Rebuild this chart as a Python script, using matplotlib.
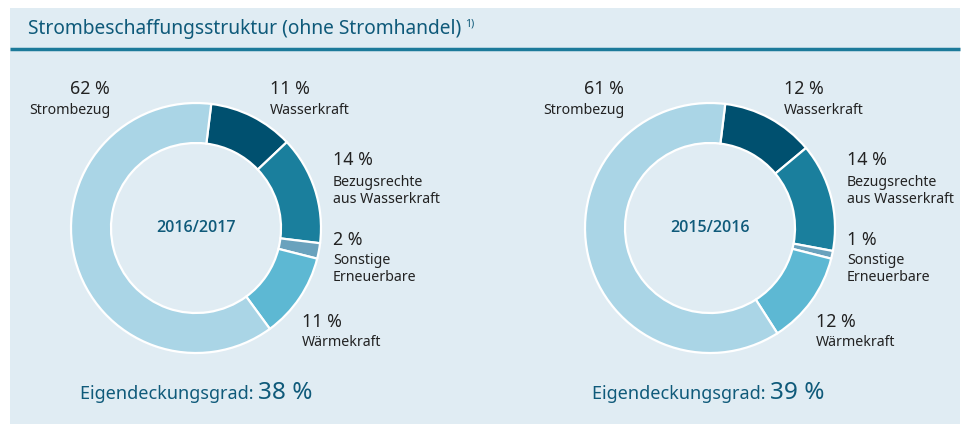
import matplotlib.pyplot as plt
from matplotlib.patches import Rectangle

W, H = 964, 426

title = "Strombeschaffungsstruktur (ohne Stromhandel)"
years = ["2016/2017", "2015/2016"]
categories = ["Wasserkraft", "Bezugsrechte\naus Wasserkraft", "Sonstige\nErneuerbare",
              "Wärmekraft", "Strombezug"]
values_1617 = [11, 14, 2, 11, 62]
values_1516 = [12, 14, 1, 12, 61]
eigendeckung = [38, 39]

colors = ["#00506f", "#1a7f9d", "#6aa2bd", "#5db8d3", "#aad5e6"]
bg = "#e0ecf3"
dark = "#0f5a7a"
textc = "#222222"

plt.rcParams['font.family'] = ['Noto Sans', 'DejaVu Sans']

fig = plt.figure(figsize=(W / 100, H / 100), dpi=100)
fig.patch.set_facecolor("white")
ax = fig.add_axes([0, 0, 1, 1])
ax.set_xlim(0, W)
ax.set_ylim(0, H)
ax.axis("off")


def py(y):
    # pixel y from top -> data y
    return H - y


def after(t):
    # right edge of a text, in data x
    fig.canvas.draw()
    return t.get_window_extent().x1


# panel background and title rule
ax.add_patch(Rectangle((10, py(424)), 950, 416, facecolor=bg, edgecolor="none", zorder=0))
ax.plot([10, 960], [py(49), py(49)], color="#1c7a9a", lw=2.5, solid_capstyle="butt", zorder=1)
t = ax.text(28, py(29), title, fontsize=13.8, color=dark, va="center", ha="left")
ax.text(after(t) + 4, py(24), "1)", fontsize=7.5, color=dark, va="center", ha="left")

panels = [
    dict(cx=196, vals=values_1617, year=years[0], eig=eigendeckung[0], ex=80),
    dict(cx=710, vals=values_1516, year=years[1], eig=eigendeckung[1], ex=592),
]

cy = 228
r_out, r_in = 125, 85
pct = 12.8
lab = 10.2

for p in panels:
    cx = p["cx"]
    ax.pie(p["vals"], colors=colors, startangle=83, counterclock=False,
           center=(cx, py(cy)), radius=r_out, frame=True,
           wedgeprops=dict(width=r_out - r_in, edgecolor="white", linewidth=1.6))
    ax.text(cx, py(cy), p["year"], fontsize=11.5, fontweight="semibold", color=dark,
            family=["Open Sans", "DejaVu Sans"], ha="center", va="center")

    v = p["vals"]
    # Strombezug (right aligned, upper left)
    ax.text(cx - 86, py(89), f"{v[4]} %", fontsize=pct, color=textc, ha="right", va="center")
    ax.text(cx - 85, py(110), categories[4], fontsize=lab, color=textc, ha="right", va="center")
    # Wasserkraft
    ax.text(cx + 74, py(89), f"{v[0]} %", fontsize=pct, color=textc, ha="left", va="center")
    ax.text(cx + 74, py(110), categories[0], fontsize=lab, color=textc, ha="left", va="center")
    # Bezugsrechte
    ax.text(cx + 137, py(160), f"{v[1]} %", fontsize=pct, color=textc, ha="left", va="center")
    ax.text(cx + 137, py(191), categories[1], fontsize=lab, color=textc, ha="left", va="center",
            linespacing=1.2)
    # Sonstige
    ax.text(cx + 137, py(240), f"{v[2]} %", fontsize=pct, color=textc, ha="left", va="center")
    ax.text(cx + 137, py(269), categories[2], fontsize=lab, color=textc, ha="left", va="center",
            linespacing=1.2)
    # Wärmekraft
    ax.text(cx + 106, py(322), f"{v[3]} %", fontsize=pct, color=textc, ha="left", va="center")
    ax.text(cx + 106, py(342), categories[3], fontsize=lab, color=textc, ha="left", va="center")

    t = ax.text(p["ex"], py(399), "Eigendeckungsgrad: ", fontsize=13, color=dark,
                ha="left", va="baseline")
    ax.text(after(t), py(399), f"{p['eig']} %", fontsize=17.5, color=dark,
            ha="left", va="baseline")

ax.set_xlim(0, W)
ax.set_ylim(0, H)
ax.set_aspect("auto")

fig.savefig("out.png", dpi=100, facecolor=fig.get_facecolor())
